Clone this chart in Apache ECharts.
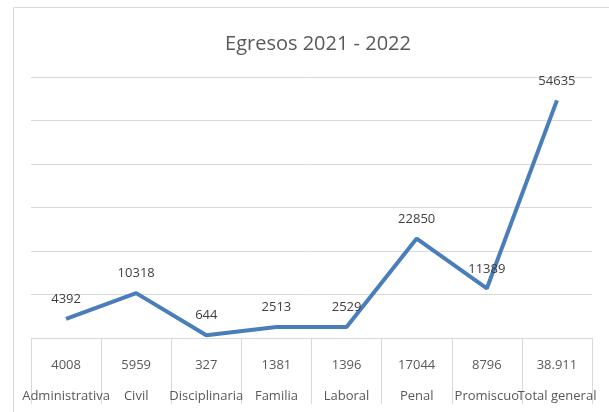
<!doctype html>
<html>
<head>
    <meta charset="utf-8">
    <title>Egresos 2021 - 2022</title>
    <style>
        html, body { margin: 0; padding: 0; background: #fff; }
        #chart { width: 609px; height: 412px; }
    </style>
</head>
<body>
<div id="chart"></div>
<script src="https://cdn.jsdelivr.net/npm/echarts@6/dist/echarts.min.js"></script>
<script>
    // datos
    var categorias = ['Administrativa', 'Civil', 'Disciplinaria', 'Familia', 'Laboral', 'Penal', 'Promiscuo', 'Total general'];
    var egresos = [4392, 10318, 644, 2513, 2529, 22850, 11389, 54635];
    var tabla = ['4008', '5959', '327', '1381', '1396', '17044', '8796', '38.911'];
    var fuente = '"Open Sans", sans-serif';

    var myChart = echarts.init(document.getElementById('chart'), null, {renderer: 'canvas'});
    var option = {
        animation: false,
        title: {
            text: 'Egresos 2021 - 2022',
            left: 313,
            top: 29,
            textAlign: 'center',
            textStyle: {color: '#595959', fontSize: 20, fontWeight: 'normal', fontFamily: fuente}
        },
        graphic: [{
            type: 'rect',
            shape: {x: 13.5, y: 7.5, width: 620, height: 420},
            style: {fill: 'none', stroke: '#d9d9d9', lineWidth: 1},
            silent: true
        }],
        grid: {left: 31, right: 17, top: 77, bottom: 71},
        xAxis: {
            type: 'category',
            data: categorias,
            boundaryGap: true,
            axisLine: {lineStyle: {color: '#d9d9d9', width: 1}},
            axisTick: {show: true, length: 66, interval: 0, lineStyle: {color: '#d9d9d9'}},
            axisLabel: {
                interval: 0,
                hideOverlap: false,
                margin: 12,
                color: '#595959',
                fontSize: 13,
                lineHeight: 31,
                fontFamily: fuente,
                formatter: function (value, index) {
                    return tabla[index] + '\n' + value;
                }
            }
        },
        yAxis: {
            type: 'value',
            min: 0,
            max: 60000,
            interval: 10000,
            axisLabel: {show: false},
            axisLine: {show: false},
            axisTick: {show: false},
            splitLine: {lineStyle: {color: '#d9d9d9', width: 1}}
        },
        series: [{
            name: 'Egresos',
            type: 'line',
            data: egresos,
            symbol: 'circle',
            symbolSize: 0,
            showSymbol: true,
            lineStyle: {color: '#4a7ebb', width: 4},
            itemStyle: {color: '#4a7ebb'},
            label: {
                show: true,
                position: 'top',
                distance: 13,
                color: '#404040',
                fontSize: 13,
                fontFamily: fuente
            }
        }]
    };
    myChart.setOption(option);
</script>
</body>
</html>
